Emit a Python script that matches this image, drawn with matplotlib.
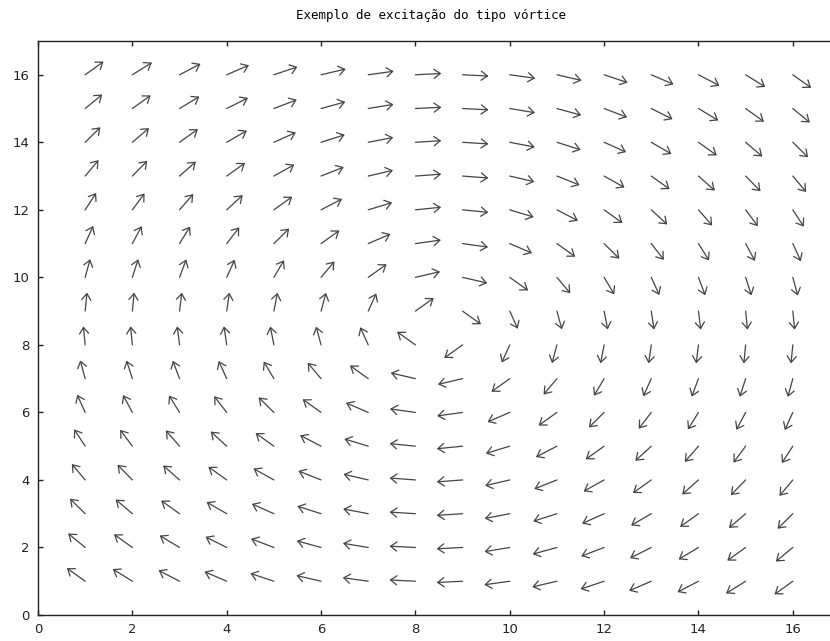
import numpy as np
import matplotlib
matplotlib.use('Agg')
import matplotlib.pyplot as plt
from matplotlib.patches import FancyArrowPatch

# grid points (arrow tails)
x_pos = [1, 2, 3, 4, 5, 6, 7, 8, 9, 10, 11, 12, 13, 14, 15, 16]
y_pos = [16, 15, 14, 13, 12, 11, 10, 9, 8, 7, 6, 5, 4, 3, 2, 1]

# arrow direction in degrees (counter-clockwise from +x), rows top (y=16) to bottom (y=1)
angles = [
    [45, 41, 36, 31, 25, 18, 11, 4, -4, -11, -18, -25, -31, -36, -41, -45],
    [49, 45, 40, 35, 28, 21, 13, 4, -4, -13, -21, -28, -35, -40, -45, -49],
    [54, 50, 45, 39, 32, 24, 15, 5, -5, -15, -24, -32, -39, -45, -50, -54],
    [59, 55, 51, 45, 38, 29, 18, 6, -6, -18, -29, -38, -45, -51, -55, -59],
    [65, 62, 58, 52, 45, 36, 23, 8, -8, -23, -36, -45, -52, -58, -62, -65],
    [72, 69, 66, 61, 54, 45, 31, 11, -11, -31, -45, -54, -61, -66, -69, -72],
    [79, 77, 75, 72, 67, 59, 45, 18, -18, -45, -59, -67, -72, -75, -77, -79],
    [86, 86, 85, 84, 82, 79, 72, 45, -45, -72, -79, -82, -84, -85, -86, -86],
    [94, 94, 95, 96, 98, 101, 108, 135, 225, 252, 259, 262, 264, 265, 266, 266],
    [101, 103, 105, 108, 113, 121, 135, 162, 198, 225, 239, 247, 252, 255, 257, 259],
    [108, 111, 114, 119, 126, 135, 149, 169, 191, 211, 225, 234, 241, 246, 249, 252],
    [115, 118, 122, 128, 135, 144, 157, 172, 188, 203, 216, 225, 232, 238, 242, 245],
    [121, 125, 129, 135, 142, 151, 162, 174, 186, 198, 209, 218, 225, 231, 235, 239],
    [126, 130, 135, 141, 148, 156, 165, 175, 185, 195, 204, 212, 219, 225, 230, 234],
    [131, 135, 140, 145, 152, 159, 167, 176, 184, 193, 201, 208, 215, 220, 225, 229],
    [135, 139, 144, 149, 155, 162, 169, 176, 184, 191, 198, 205, 211, 216, 221, 225],
]
arrow_len = 0.55

ticks = [0, 2, 4, 6, 8, 10, 12, 14, 16]

fig = plt.figure(figsize=(8.3, 6.41), dpi=100)
# axes runs past the right edge, like the cropped original
ax = fig.add_axes([38/830, 26/641, 802/830, 574/641])

th = np.radians(np.array(angles, dtype=float))
for i, y in enumerate(y_pos):
    for j, x in enumerate(x_pos):
        dx = arrow_len*np.cos(th[i, j])
        dy = arrow_len*np.sin(th[i, j])
        a = FancyArrowPatch((x, y), (x+dx, y+dy),
                            arrowstyle='->,head_length=0.45,head_width=0.33',
                            mutation_scale=10, shrinkA=0, shrinkB=0,
                            color='#444444', lw=0.9)
        ax.add_patch(a)

ax.set_xlim(0, 17)
ax.set_ylim(0, 17)
ax.set_xticks(ticks)
ax.set_yticks(ticks)
ax.tick_params(direction='in', length=3.6, width=1, labelsize=9.5, pad=6,
               top=True, right=True, colors='#222222')
for s in ax.spines.values():
    s.set_linewidth(1)
    s.set_color('#222222')

fig.text(431/830, 1-15/641, 'Exemplo de excitação do tipo vórtice',
         family='DejaVu Sans Mono', fontsize=9, ha='center', va='center')

fig.savefig('out.png', dpi=100)
